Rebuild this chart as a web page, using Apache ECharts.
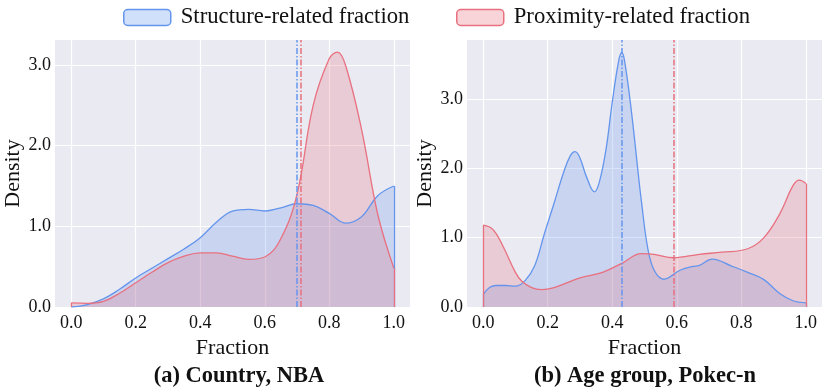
<!DOCTYPE html>
<html>
<head>
<meta charset="utf-8" />
<title>Fraction density</title>
<script src="https://cdn.jsdelivr.net/npm/echarts@6/dist/echarts.min.js"></script>
<style>
  html, body { margin: 0; padding: 0; background: #fff; }
  #main { width: 830px; height: 392px; }
</style>
</head>
<body>
<div id="main"></div>
<script>
// tick labels
var fracTicks = [0, 0.2, 0.4, 0.6, 0.8, 1.0];
var densTicks = [0, 1, 2, 3];

// (a) Country, NBA
var aStructX = [0, 0.05, 0.1, 0.15, 0.2, 0.25, 0.3, 0.35, 0.4, 0.45, 0.5, 0.55, 0.6, 0.65, 0.7, 0.75, 0.8, 0.85, 0.9, 0.95, 1.0];
var aStructY = [0, 0.03, 0.1, 0.22, 0.36, 0.48, 0.6, 0.72, 0.86, 1.05, 1.19, 1.21, 1.19, 1.23, 1.28, 1.26, 1.16, 1.04, 1.12, 1.38, 1.5];
var aProxX = [0, 0.05, 0.1, 0.15, 0.2, 0.25, 0.3, 0.35, 0.4, 0.45, 0.5, 0.55, 0.6, 0.65, 0.7, 0.75, 0.8, 0.825, 0.85, 0.9, 0.95, 1.0];
var aProxY = [0.05, 0.045, 0.07, 0.17, 0.3, 0.43, 0.55, 0.63, 0.67, 0.67, 0.63, 0.59, 0.62, 0.85, 1.4, 2.5, 3.08, 3.16, 3.0, 2.2, 1.15, 0.48];
var aMeans = [0.700, 0.708]; // structure, proximity

// (b) Age group, Pokec-n
var bStructX = [0, 0.02, 0.04, 0.07, 0.1, 0.13, 0.16, 0.19, 0.22, 0.25, 0.27, 0.285, 0.3, 0.32, 0.345, 0.36, 0.38, 0.4, 0.42, 0.43, 0.44, 0.46, 0.48, 0.49, 0.51, 0.53, 0.56, 0.61, 0.65, 0.67, 0.71, 0.77, 0.82, 0.87, 0.92, 0.96, 1.0];
var bStructY = [0.18, 0.28, 0.31, 0.31, 0.3, 0.38, 0.6, 1.06, 1.5, 1.95, 2.18, 2.24, 2.15, 1.88, 1.66, 1.8, 2.25, 2.95, 3.55, 3.67, 3.5, 2.8, 1.95, 1.54, 0.85, 0.53, 0.4, 0.53, 0.585, 0.6, 0.69, 0.59, 0.5, 0.395, 0.19, 0.09, 0.06];
var bProxX = [0, 0.03, 0.06, 0.1, 0.12, 0.15, 0.18, 0.22, 0.3, 0.37, 0.43, 0.49, 0.53, 0.59, 0.67, 0.74, 0.82, 0.87, 0.92, 0.96, 0.98, 1.0];
var bProxY = [1.18, 1.12, 0.89, 0.5, 0.37, 0.28, 0.25, 0.28, 0.42, 0.5, 0.63, 0.77, 0.76, 0.71, 0.76, 0.79, 0.84, 1.0, 1.35, 1.75, 1.83, 1.78];
var bMeans = [0.4255, 0.594];

var blue = '#6495ED', red = '#E8707F';
var blueFill = 'rgba(100,149,237,0.25)', redFill = 'rgba(232,112,127,0.25)';
var serif = '"Liberation Serif", "Times New Roman", serif';

function pairs(xs, ys) {
  return xs.map(function (x, i) { return [x, ys[i]]; });
}

function curve(name, idx, xs, ys, color, fill, mean) {
  var n = xs.length - 1;
  return {
    name: name,
    type: 'line',
    xAxisIndex: idx,
    yAxisIndex: idx,
    smooth: 0.4,
    showSymbol: false,
    z: 3,
    lineStyle: { color: color, width: 1.3 },
    itemStyle: { color: color },
    areaStyle: { color: fill, opacity: 1 },
    data: pairs(xs, ys),
    markLine: {
      silent: true,
      symbol: 'none',
      label: { show: false },
      data: [
        { xAxis: mean, lineStyle: { color: color, width: 1.5, type: [6, 2, 1.5, 2] } },
        [{ coord: [xs[0], 0], lineStyle: { color: color, width: 1.3, type: 'solid' } }, { coord: [xs[0], ys[0]] }],
        [{ coord: [xs[n], 0], lineStyle: { color: color, width: 1.3, type: 'solid' } }, { coord: [xs[n], ys[n]] }]
      ]
    }
  };
}

function xAxisOf(idx) {
  return {
    type: 'value', gridIndex: idx, min: -0.05, max: 1.05,
    name: 'Fraction', nameLocation: 'middle', nameGap: 25,
    nameTextStyle: { fontFamily: serif, fontSize: 22, color: '#111' },
    axisLine: { show: false }, axisTick: { show: false, customValues: fracTicks },
    axisLabel: { customValues: fracTicks, fontFamily: serif, fontSize: 18, color: '#111', margin: 7,
      formatter: function (v) { return v.toFixed(1); } },
    splitLine: { show: true, lineStyle: { color: '#fff', width: 1.2 } }
  };
}

function yAxisOf(idx, max) {
  return {
    type: 'value', gridIndex: idx, min: 0, max: max, interval: 1,
    name: 'Density', nameLocation: 'middle', nameGap: 23,
    nameTextStyle: { fontFamily: serif, fontSize: 22, color: '#111' },
    axisLine: { show: false }, axisTick: { show: false },
    axisLabel: { fontFamily: serif, fontSize: 18, color: '#111', margin: 4, showMaxLabel: false,
      formatter: function (v) { return v.toFixed(1); } },
    splitLine: { show: true, showMaxLine: false, lineStyle: { color: '#fff', width: 1.2 } }
  };
}

var chart = echarts.init(document.getElementById('main'));
chart.setOption({
  animation: false,
  backgroundColor: '#fff',
  title: [
    { text: '(a) Country, NBA', left: 234, top: 360, textAlign: 'center',
      textStyle: { fontFamily: serif, fontSize: 22.5, fontWeight: 'bold', color: '#111' } },
    { text: '(b) Age group, Pokec-n', left: 640, top: 360, textAlign: 'center',
      textStyle: { fontFamily: serif, fontSize: 22.5, fontWeight: 'bold', color: '#111' } }
  ],
  legend: [
    { left: 123, top: 6, padding: 0, itemWidth: 47, itemHeight: 16, itemGap: 10,
      textStyle: { fontFamily: serif, fontSize: 22.7, color: '#111', padding: [0, 0, 0, 5] },
      data: [{ name: 'Structure-related fraction', icon: 'roundRect',
        itemStyle: { color: 'rgba(100,149,237,0.3)', borderColor: blue, borderWidth: 1.5 } }] },
    { left: 456, top: 6, padding: 0, itemWidth: 47, itemHeight: 16, itemGap: 10,
      textStyle: { fontFamily: serif, fontSize: 22.7, color: '#111', padding: [0, 0, 0, 5] },
      data: [{ name: 'Proximity-related fraction', icon: 'roundRect',
        itemStyle: { color: 'rgba(232,112,127,0.3)', borderColor: red, borderWidth: 1.5 } }] }
  ],
  grid: [
    { left: 55, right: 420, top: 40, bottom: 85, show: true, backgroundColor: '#EAEAF2', borderWidth: 0 },
    { left: 467, right: 8, top: 40, bottom: 85, show: true, backgroundColor: '#EAEAF2', borderWidth: 0 }
  ],
  xAxis: [xAxisOf(0), xAxisOf(1)],
  yAxis: [yAxisOf(0, 3.31), yAxisOf(1, 3.85)],
  series: [
    curve('Structure-related fraction', 0, aStructX, aStructY, blue, blueFill, aMeans[0]),
    curve('Proximity-related fraction', 0, aProxX, aProxY, red, redFill, aMeans[1]),
    curve('Structure-related fraction', 1, bStructX, bStructY, blue, blueFill, bMeans[0]),
    curve('Proximity-related fraction', 1, bProxX, bProxY, red, redFill, bMeans[1])
  ]
});
</script>
</body>
</html>
